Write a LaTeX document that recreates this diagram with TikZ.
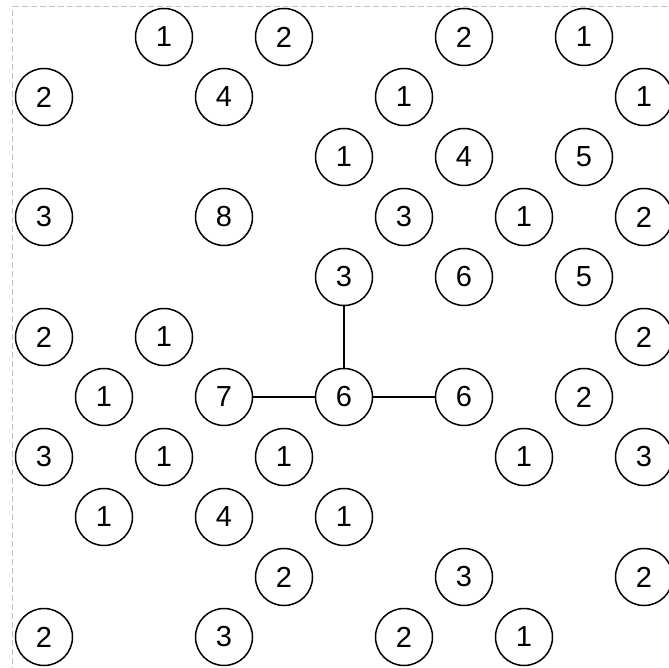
\documentclass[tikz,border=0pt]{standalone}
\usepackage{fontspec}
\setmainfont{Liberation Sans}
\definecolor{FrameGray}{RGB}{192, 192, 192}

\begin{document}
\begin{tikzpicture}[x=1pt, y=-1pt,
    island/.style={circle, draw, line width=1.5pt, fill=white, minimum size=57pt,
      inner sep=0pt, font=\fontsize{29}{31}\selectfont},
    bridge/.style={line width=2.8pt}]
  \useasboundingbox (0,0) rectangle (668,668);

  % Frame
  \draw[FrameGray, line width=1pt, dash pattern=on 6pt off 3pt] (12.5,700) -- (12.5,7) -- (700,7);

  % Islands (column / row / value)
  \foreach \c/\r/\v in {2/0/1, 4/0/2, 7/0/2, 9/0/1,
      0/1/2, 3/1/4, 6/1/1, 10/1/1,
      5/2/1, 7/2/4, 9/2/5,
      0/3/3, 3/3/8, 6/3/3, 8/3/1, 10/3/2,
      5/4/3, 7/4/6, 9/4/5,
      0/5/2, 2/5/1, 10/5/2,
      1/6/1, 3/6/7, 5/6/6, 7/6/6, 9/6/2,
      0/7/3, 2/7/1, 4/7/1, 8/7/1, 10/7/3,
      1/8/1, 3/8/4, 5/8/1,
      4/9/2, 7/9/3, 10/9/2,
      0/10/2, 3/10/3, 6/10/2, 8/10/1} {
    \node[island] (i-\c-\r) at (44+60*\c, 37+60*\r) {\v};
  }

  % Bridges
  \draw[bridge] (i-5-4) -- (i-5-6);
  \draw[bridge] (i-3-6) -- (i-5-6);
  \draw[bridge] (i-5-6) -- (i-7-6);
\end{tikzpicture}
\end{document}
